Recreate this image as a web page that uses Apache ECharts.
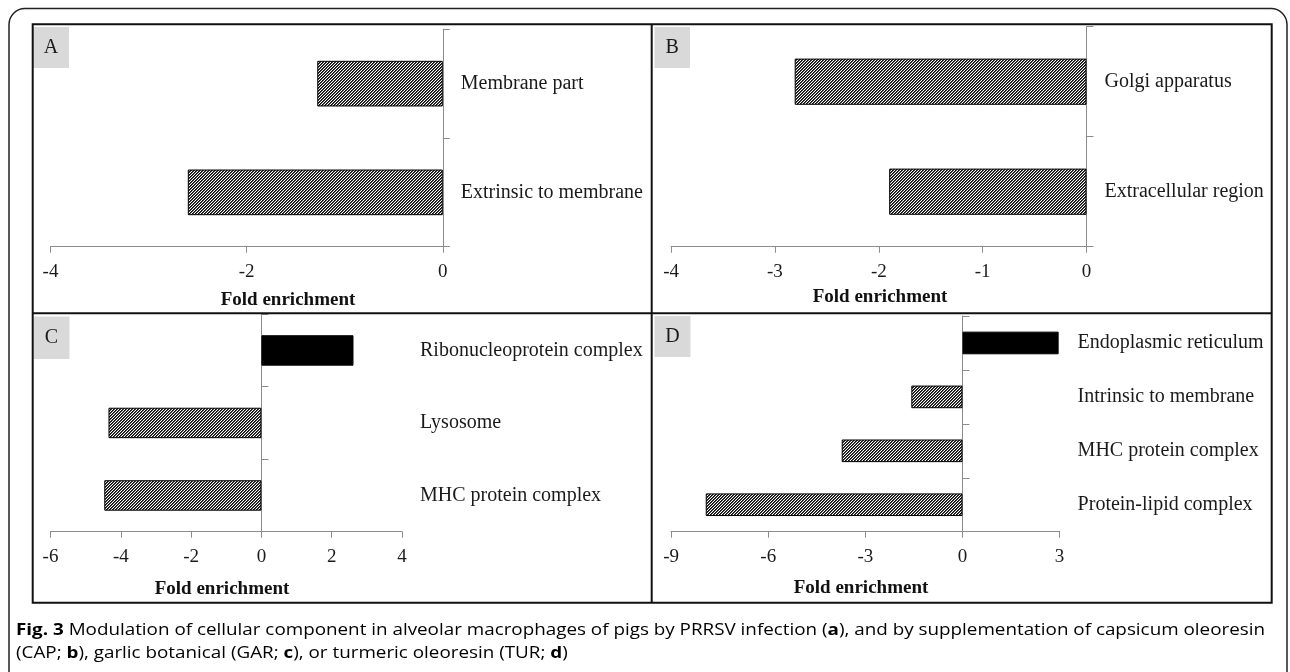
<!DOCTYPE html>
<html>
<head>
<meta charset="utf-8">
<title>Fig. 3 Cellular component enrichment</title>
<script src="https://cdn.jsdelivr.net/npm/echarts@6/dist/echarts.min.js"></script>
<style>
  html, body { margin: 0; padding: 0; background: #fff; }
  #chart { width: 1290px; height: 672px; }
</style>
</head>
<body>
<div id="chart"></div>
<script>
// Panel A: PRRSV infection
const catsA = ['Membrane part', 'Extrinsic to membrane'];
const valsA = [-1.28, -2.6];
const axisA = [-4, 0, 2];           // min, max, interval

// Panel B: capsicum oleoresin
const catsB = ['Golgi apparatus', 'Extracellular region'];
const valsB = [-2.81, -1.9];
const axisB = [-4, 0, 1];

// Panel C: garlic botanical
const catsC = ['Ribonucleoprotein complex', 'Lysosome', 'MHC protein complex'];
const valsC = [2.62, -4.35, -4.47];
const axisC = [-6, 4, 2];

// Panel D: turmeric oleoresin
const catsD = ['Endoplasmic reticulum', 'Intrinsic to membrane', 'MHC protein complex', 'Protein-lipid complex'];
const valsD = [2.97, -1.58, -3.73, -7.93];
const axisD = [-9, 3, 3];

const panelLetters = ['A', 'B', 'C', 'D'];
const axisTitle = 'Fold enrichment';
// caption pieces: [text, bold]
const captionLine1 = [
  ['Fig. 3', 1], [' Modulation of cellular component in alveolar macrophages of pigs by PRRSV infection (', 0],
  ['a', 1], ['), and by supplementation of capsicum oleoresin', 0]
];
const captionLine2 = [
  ['(CAP; ', 0], ['b', 1], ['), garlic botanical (GAR; ', 0], ['c', 1],
  ['), or turmeric oleoresin (TUR; ', 0], ['d', 1], [')', 0]
];

// Diagonal hatch tile for down-regulated terms
function hatchTile() {
  const c = document.createElement('canvas');
  c.width = 6; c.height = 6;
  const ctx = c.getContext('2d');
  const img = ctx.createImageData(6, 6);
  for (let y = 0; y < 6; y++) {
    for (let x = 0; x < 6; x++) {
      const k = (x + y) % 3;
      const v = k === 0 ? 10 : (k === 1 ? 75 : 255);
      const i = (y * 6 + x) * 4;
      img.data[i] = v; img.data[i + 1] = v; img.data[i + 2] = v; img.data[i + 3] = 255;
    }
  }
  ctx.putImageData(img, 0, 0);
  return c;
}
const hatch = { image: hatchTile(), repeat: 'repeat' };

const SERIF = '"Liberation Serif", "Times New Roman", serif';
const AXIS_GRAY = '#8c8c8c';

// Plot rectangles for the four panels
const grids = [
  { left: 50.5, top: 29.3, width: 392.3, height: 217.4 },
  { left: 671.1, top: 26.7, width: 415.4, height: 220 },
  { left: 50.5, top: 314.2, width: 351.5, height: 217.5 },
  { left: 671.1, top: 316, width: 388.5, height: 215.7 }
];
const panels = [
  { cats: catsA, vals: valsA, axis: axisA },
  { cats: catsB, vals: valsB, axis: axisB },
  { cats: catsC, vals: valsC, axis: axisC },
  { cats: catsD, vals: valsD, axis: axisD }
];

const xAxes = [], yAxes = [], series = [];
panels.forEach((p, k) => {
  const g = grids[k];
  xAxes.push({
    type: 'value', gridIndex: k, position: 'bottom',
    min: p.axis[0], max: p.axis[1], interval: p.axis[2],
    splitLine: { show: false },
    axisLine: { show: true, onZero: false, lineStyle: { color: AXIS_GRAY, width: 1 } },
    axisTick: { show: true, length: 6, lineStyle: { color: AXIS_GRAY } },
    axisLabel: { margin: 16, color: '#1a1a1a', fontFamily: SERIF, fontSize: 19 }
  });
  // labelled category axis along the right edge of the plot
  yAxes.push({
    type: 'category', gridIndex: k, position: 'right', inverse: true, data: p.cats,
    axisLine: { show: false, onZero: false }, axisTick: { show: false },
    axisLabel: { margin: 18, color: '#1a1a1a', fontFamily: SERIF, fontSize: 20 }
  });
  // zero line with boundary ticks, shifted from the right edge to x = 0
  const zeroShift = -g.width * p.axis[1] / (p.axis[1] - p.axis[0]);
  yAxes.push({
    type: 'category', gridIndex: k, position: 'right', inverse: true, data: p.cats,
    offset: zeroShift,
    axisLine: { show: true, onZero: false, lineStyle: { color: AXIS_GRAY, width: 1 } },
    axisTick: { show: true, length: 7, lineStyle: { color: AXIS_GRAY } },
    axisLabel: { show: false }
  });
  series.push({
    type: 'bar', xAxisIndex: k, yAxisIndex: 2 * k, barWidth: '42%',
    silent: true, animation: false, z: 1,
    data: p.vals.map(v => ({
      value: v,
      itemStyle: { color: v >= 0 ? '#000' : hatch, borderColor: '#000', borderWidth: 1 }
    }))
  });
});

// Panel letter badges
const badges = [
  { x: 33, y: 27, w: 36, h: 41 },
  { x: 654.5, y: 27, w: 35.5, h: 41 },
  { x: 33.5, y: 316.5, w: 36, h: 42.5 },
  { x: 654.5, y: 316, w: 36, h: 41 }
];
// Axis title anchors
const titles = [
  { x: 288, y: 300 },
  { x: 880, y: 297 },
  { x: 222, y: 589 },
  { x: 861, y: 588 }
];

const graphics = [];
// outer rounded frame
graphics.push({
  type: 'rect', z: 10, silent: true,
  shape: { x: 9, y: 8.5, width: 1278, height: 720, r: 16 },
  style: { fill: 'none', stroke: '#222', lineWidth: 1.5 }
});
// panel frame and dividers
graphics.push({
  type: 'rect', z: 10, silent: true,
  shape: { x: 32.7, y: 24.3, width: 1239, height: 578.4 },
  style: { fill: 'none', stroke: '#111', lineWidth: 2 }
});
graphics.push({
  type: 'line', z: 10, silent: true,
  shape: { x1: 651.7, y1: 24.3, x2: 651.7, y2: 602.7 },
  style: { stroke: '#111', lineWidth: 2 }
});
graphics.push({
  type: 'line', z: 10, silent: true,
  shape: { x1: 32.7, y1: 313.3, x2: 1271.7, y2: 313.3 },
  style: { stroke: '#111', lineWidth: 2 }
});
badges.forEach((b, i) => {
  graphics.push({
    type: 'rect', z: 5, silent: true,
    shape: { x: b.x, y: b.y, width: b.w, height: b.h },
    style: { fill: '#d9d9d9' }
  });
  graphics.push({
    type: 'text', z: 6, silent: true,
    x: b.x + b.w / 2, y: b.y + b.h / 2,
    style: { text: panelLetters[i], font: '20px ' + SERIF, fill: '#1a1a1a', align: 'center', verticalAlign: 'middle' }
  });
});
titles.forEach(t => {
  graphics.push({
    type: 'text', z: 6, silent: true, x: t.x, y: t.y,
    style: { text: axisTitle, font: 'bold 19px ' + SERIF, fill: '#111', align: 'center', verticalAlign: 'middle' }
  });
});

// Caption set in a horizontally widened face; first line spans the full text block
const CAP_FAMILY = '"Open Sans", "Noto Sans", sans-serif';
const CAP_SIZE = 16;
const CAP_LEFT = 16, CAP_RIGHT = 1265;
const measureCtx = document.createElement('canvas').getContext('2d');
function pieceFont(bold) { return (bold ? 'bold ' : '') + CAP_SIZE + 'px ' + CAP_FAMILY; }
function lineWidth(pieces) {
  let w = 0;
  pieces.forEach(([s, b]) => { measureCtx.font = pieceFont(b); w += measureCtx.measureText(s).width; });
  return w;
}
function lineRich(pieces) {
  return pieces.map(([s, b]) => '{' + (b ? 'b' : 'n') + '|' + s + '}').join('');
}
const capRich = {
  n: { fontFamily: CAP_FAMILY, fontSize: CAP_SIZE, color: '#2b2b2b' },
  b: { fontFamily: CAP_FAMILY, fontSize: CAP_SIZE, fontWeight: 'bold', color: '#1a1a1a' }
};
const capScale = (CAP_RIGHT - CAP_LEFT) / lineWidth(captionLine1);
[[captionLine1, 630], [captionLine2, 653]].forEach(([pieces, y]) => {
  graphics.push({
    type: 'text', z: 6, silent: true, x: CAP_LEFT, y: y, scaleX: capScale,
    style: { text: lineRich(pieces), rich: capRich, align: 'left', verticalAlign: 'middle' }
  });
});

const chart = echarts.init(document.getElementById('chart'), null, { renderer: 'canvas' });
chart.setOption({
  backgroundColor: '#fff',
  animation: false,
  grid: grids.map(g => Object.assign({ containLabel: false, outerBoundsMode: 'none' }, g)),
  xAxis: xAxes,
  yAxis: yAxes,
  series: series,
  graphic: graphics
});
</script>
</body>
</html>
